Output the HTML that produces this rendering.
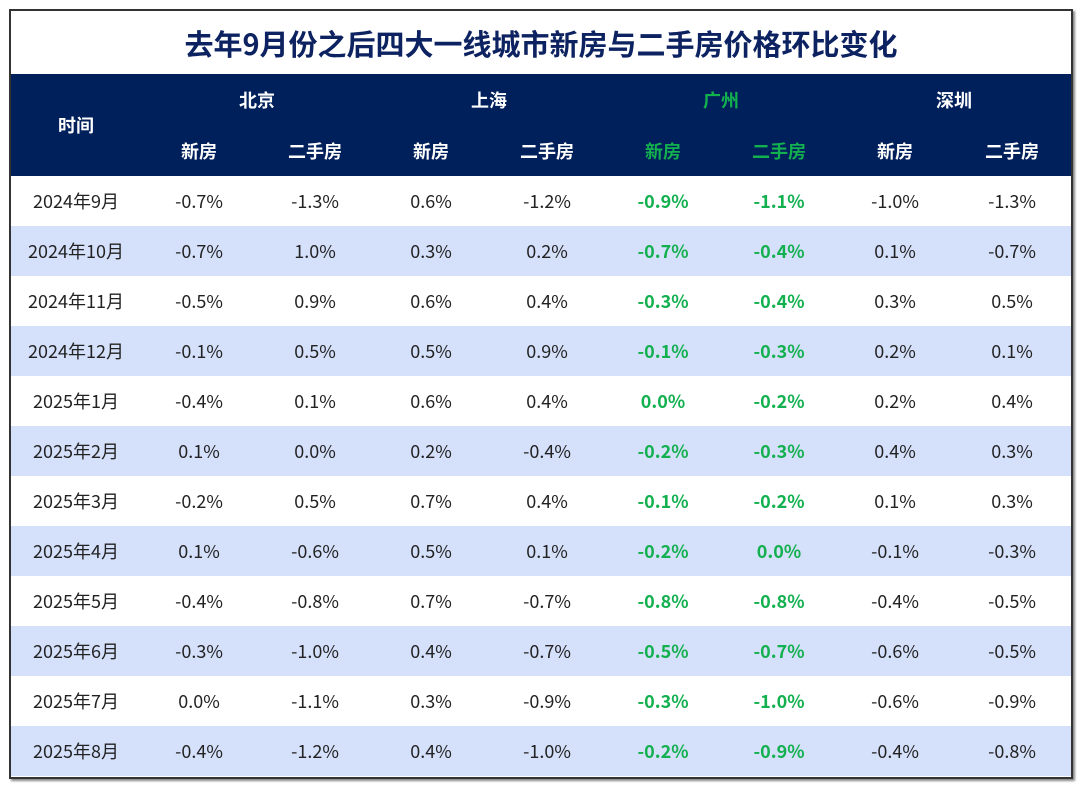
<!DOCTYPE html><html><head><meta charset="utf-8"><style>
body{margin:0;width:1080px;height:786px;background:#fff;font-family:"Noto Sans CJK SC","Liberation Sans",sans-serif;}
.box{position:absolute;left:9px;top:9px;width:1060px;height:766px;border:2px solid #333;box-shadow:2px 2px 2px #888;background:#fff;}
.title{position:absolute;left:0;top:0;width:1060px;height:63px;line-height:64px;text-align:center;font-size:29px;font-weight:bold;color:#0d2260;}
table{position:absolute;left:0;top:63px;border-collapse:collapse;width:1060px;}
th{background:#00205b;color:#fff;font-size:18px;font-weight:bold;padding:0;}
td{text-align:center;font-size:18px;color:#222;height:50px;padding:0;}
tr.a td{background:#d5e0fb;}
.g{color:#13b04f!important;font-weight:bold;}
</style></head><body><div class="box"><div class="title">去年9月份之后四大一线城市新房与二手房价格环比变化</div>
<table>
<colgroup><col style="width:130px"><col style="width:116px"><col style="width:116px"><col style="width:116px"><col style="width:116px"><col style="width:116px"><col style="width:116px"><col style="width:116px"><col style="width:118px"></colgroup>
<tr style="height:51px"><th rowspan="2">时间</th><th colspan="2">北京</th><th colspan="2">上海</th><th colspan="2" class="g">广州</th><th colspan="2">深圳</th></tr>
<tr style="height:51px"><th>新房</th><th>二手房</th><th>新房</th><th>二手房</th><th class="g">新房</th><th class="g">二手房</th><th>新房</th><th>二手房</th></tr>
<tr><td>2024年9月</td><td>-0.7%</td><td>-1.3%</td><td>0.6%</td><td>-1.2%</td><td class="g">-0.9%</td><td class="g">-1.1%</td><td>-1.0%</td><td>-1.3%</td></tr>
<tr class="a"><td>2024年10月</td><td>-0.7%</td><td>1.0%</td><td>0.3%</td><td>0.2%</td><td class="g">-0.7%</td><td class="g">-0.4%</td><td>0.1%</td><td>-0.7%</td></tr>
<tr><td>2024年11月</td><td>-0.5%</td><td>0.9%</td><td>0.6%</td><td>0.4%</td><td class="g">-0.3%</td><td class="g">-0.4%</td><td>0.3%</td><td>0.5%</td></tr>
<tr class="a"><td>2024年12月</td><td>-0.1%</td><td>0.5%</td><td>0.5%</td><td>0.9%</td><td class="g">-0.1%</td><td class="g">-0.3%</td><td>0.2%</td><td>0.1%</td></tr>
<tr><td>2025年1月</td><td>-0.4%</td><td>0.1%</td><td>0.6%</td><td>0.4%</td><td class="g">0.0%</td><td class="g">-0.2%</td><td>0.2%</td><td>0.4%</td></tr>
<tr class="a"><td>2025年2月</td><td>0.1%</td><td>0.0%</td><td>0.2%</td><td>-0.4%</td><td class="g">-0.2%</td><td class="g">-0.3%</td><td>0.4%</td><td>0.3%</td></tr>
<tr><td>2025年3月</td><td>-0.2%</td><td>0.5%</td><td>0.7%</td><td>0.4%</td><td class="g">-0.1%</td><td class="g">-0.2%</td><td>0.1%</td><td>0.3%</td></tr>
<tr class="a"><td>2025年4月</td><td>0.1%</td><td>-0.6%</td><td>0.5%</td><td>0.1%</td><td class="g">-0.2%</td><td class="g">0.0%</td><td>-0.1%</td><td>-0.3%</td></tr>
<tr><td>2025年5月</td><td>-0.4%</td><td>-0.8%</td><td>0.7%</td><td>-0.7%</td><td class="g">-0.8%</td><td class="g">-0.8%</td><td>-0.4%</td><td>-0.5%</td></tr>
<tr class="a"><td>2025年6月</td><td>-0.3%</td><td>-1.0%</td><td>0.4%</td><td>-0.7%</td><td class="g">-0.5%</td><td class="g">-0.7%</td><td>-0.6%</td><td>-0.5%</td></tr>
<tr><td>2025年7月</td><td>0.0%</td><td>-1.1%</td><td>0.3%</td><td>-0.9%</td><td class="g">-0.3%</td><td class="g">-1.0%</td><td>-0.6%</td><td>-0.9%</td></tr>
<tr class="a"><td>2025年8月</td><td>-0.4%</td><td>-1.2%</td><td>0.4%</td><td>-1.0%</td><td class="g">-0.2%</td><td class="g">-0.9%</td><td>-0.4%</td><td>-0.8%</td></tr>
</table></div></body></html>
